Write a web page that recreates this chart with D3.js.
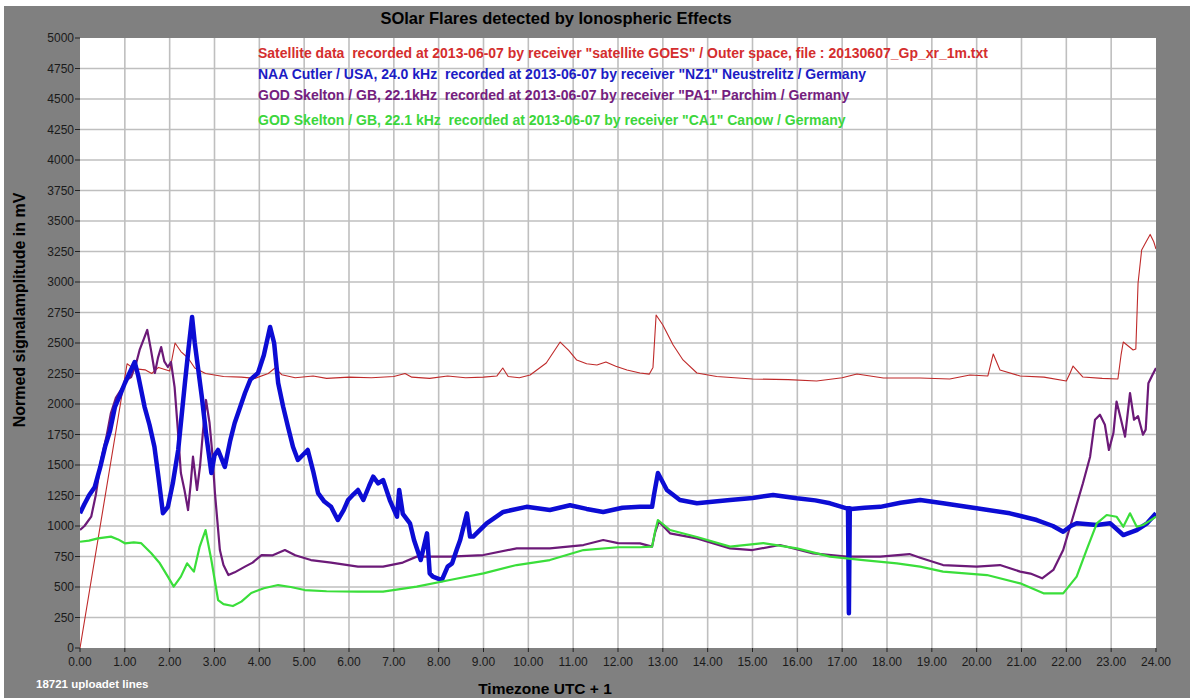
<!DOCTYPE html>
<html lang="en">
<head>
    <meta charset="UTF-8">
    <title>SOlar Flares detected by Ionospheric Effects</title>
    <script src="https://d3js.org/d3.v7.min.js"></script>
    <style>
        body { margin: 0; background: #ffffff; }
        svg { display: block; }
        .tick-label { font-family: "Liberation Sans Narrow", "Arial Narrow", "Liberation Sans", Arial, sans-serif; font-size: 12px; fill: #1a1a1a; }
    </style>
</head>
<body>
    <div id="chart"></div>
    <script>

// ---- data ----
var hourTicks = d3.range(0, 25);
var valueTicks = d3.range(0, 5001, 250);

var legendLabels = [
    'Satellite data  recorded at 2013-06-07 by receiver "satellite GOES" / Outer space, file : 20130607_Gp_xr_1m.txt',
    'NAA Cutler / USA, 24.0 kHz  recorded at 2013-06-07 by receiver "NZ1" Neustrelitz / Germany',
    'GOD Skelton / GB, 22.1kHz  recorded at 2013-06-07 by receiver "PA1" Parchim / Germany',
    'GOD Skelton / GB, 22.1 kHz  recorded at 2013-06-07 by receiver "CA1" Canow / Germany'
];

// satellite GOES
var goesT = [0, 1.05, 1.2, 1.45, 1.6, 1.75, 2.0, 2.12, 2.25, 2.41, 2.56, 2.8, 3.2, 3.6, 3.9, 4.2, 4.35, 4.5, 4.8, 5.2, 5.5, 6.0, 6.5, 7.0, 7.25, 7.4, 7.8, 8.2, 8.6, 9.0, 9.3, 9.43, 9.55, 9.8, 10.04, 10.4, 10.71, 10.9, 11.08, 11.3, 11.53, 11.73, 11.95, 12.2, 12.49, 12.7, 12.78, 12.85, 13.0, 13.23, 13.45, 13.76, 14.2, 15.0, 15.8, 16.43, 17.0, 17.33, 17.92, 18.74, 19.4, 19.85, 20.25, 20.37, 20.52, 20.97, 21.5, 22.0, 22.08, 22.15, 22.37, 22.8, 23.15, 23.22, 23.27, 23.49, 23.55, 23.6, 23.68, 23.78, 23.87, 23.95, 24.0];
var goesV = [0, 2330, 2290, 2280, 2250, 2300, 2270, 2500, 2430, 2377, 2295, 2250, 2225, 2220, 2210, 2250, 2295, 2240, 2215, 2230, 2210, 2220, 2215, 2225, 2250, 2220, 2210, 2230, 2215, 2220, 2230, 2295, 2225, 2215, 2238, 2336, 2508, 2440, 2360, 2330, 2320, 2344, 2310, 2279, 2254, 2245, 2300, 2730, 2648, 2484, 2361, 2254, 2225, 2205, 2200, 2189, 2215, 2246, 2213, 2213, 2205, 2238, 2230, 2410, 2279, 2230, 2220, 2189, 2250, 2311, 2221, 2210, 2205, 2400, 2508, 2443, 2450, 2992, 3262, 3330, 3390, 3330, 3270];

// NAA Cutler, NZ1
var naaT = [0, 0.1, 0.2, 0.33, 0.45, 0.56, 0.67, 0.78, 0.9, 1.0, 1.1, 1.22, 1.3, 1.44, 1.55, 1.66, 1.75, 1.85, 1.96, 2.07, 2.19, 2.34, 2.42, 2.5, 2.56, 2.63, 2.72, 2.81, 2.93, 3.0, 3.08, 3.23, 3.35, 3.45, 3.55, 3.68, 3.8, 3.97, 4.1, 4.24, 4.33, 4.42, 4.53, 4.64, 4.75, 4.86, 5.08, 5.2, 5.31, 5.45, 5.6, 5.75, 5.88, 5.98, 6.1, 6.2, 6.32, 6.45, 6.54, 6.65, 6.76, 6.91, 7.07, 7.12, 7.2, 7.36, 7.45, 7.6, 7.74, 7.8, 7.87, 8.07, 8.2, 8.3, 8.4, 8.48, 8.63, 8.7, 8.77, 9.07, 9.44, 9.96, 10.48, 10.93, 11.3, 11.67, 12.1, 12.49, 12.76, 12.8, 12.89, 13.09, 13.38, 13.76, 14.5, 15.0, 15.46, 15.99, 16.4, 16.73, 17.1, 17.13, 17.15, 17.17, 17.2, 17.5, 17.85, 18.3, 18.74, 19.25, 20.0, 20.74, 21.34, 21.7, 21.93, 22.1, 22.23, 22.68, 22.98, 23.27, 23.57, 23.8, 24.0];
var naaV = [1105, 1180, 1250, 1320, 1480, 1650, 1780, 1977, 2080, 2170, 2250, 2344, 2230, 1977, 1830, 1650, 1400, 1105, 1157, 1350, 1623, 2172, 2450, 2713, 2500, 2303, 2050, 1762, 1434, 1580, 1623, 1484, 1700, 1844, 1950, 2090, 2200, 2254, 2400, 2631, 2500, 2172, 1980, 1811, 1650, 1541, 1623, 1450, 1270, 1200, 1157, 1049, 1130, 1213, 1260, 1295, 1213, 1330, 1404, 1350, 1377, 1213, 1076, 1295, 1100, 1022, 885, 721, 940, 612, 585, 557, 667, 694, 803, 885, 1104, 913, 913, 1022, 1115, 1157, 1131, 1170, 1140, 1115, 1150, 1157, 1157, 1250, 1434, 1295, 1213, 1186, 1213, 1230, 1254, 1227, 1210, 1186, 1145, 1145, 285, 1145, 1140, 1150, 1157, 1190, 1213, 1186, 1145, 1104, 1049, 1000, 953, 1000, 1022, 1008, 1022, 926, 967, 1022, 1104];

// GOD Skelton, PA1
var pa1T = [0, 0.1, 0.25, 0.35, 0.47, 0.6, 0.69, 0.8, 0.91, 1.05, 1.14, 1.25, 1.33, 1.42, 1.5, 1.58, 1.67, 1.74, 1.81, 1.88, 1.96, 2.03, 2.11, 2.18, 2.25, 2.33, 2.41, 2.47, 2.52, 2.61, 2.68, 2.74, 2.81, 2.89, 2.95, 3.01, 3.12, 3.2, 3.31, 3.45, 3.68, 3.85, 4.05, 4.3, 4.57, 4.8, 5.15, 5.6, 6.2, 6.76, 7.2, 7.51, 8.25, 9.0, 9.74, 10.48, 11.23, 11.67, 12.0, 12.49, 12.76, 12.83, 12.91, 13.16, 13.76, 14.5, 15.0, 15.61, 16.35, 17.1, 17.85, 18.5, 18.74, 19.25, 20.0, 20.52, 20.97, 21.2, 21.46, 21.71, 21.93, 22.15, 22.37, 22.53, 22.64, 22.75, 22.86, 22.95, 23.05, 23.12, 23.22, 23.31, 23.42, 23.51, 23.6, 23.71, 23.77, 23.83, 23.92, 24.0];
var pa1V = [967, 1000, 1076, 1250, 1541, 1750, 1926, 2050, 2115, 2200, 2221, 2330, 2443, 2530, 2607, 2450, 2254, 2380, 2467, 2350, 2303, 2344, 2139, 1800, 1434, 1295, 1131, 1350, 1568, 1295, 1500, 1762, 2033, 1844, 1600, 1270, 803, 680, 598, 620, 667, 700, 762, 760, 803, 760, 721, 700, 667, 667, 700, 749, 749, 762, 817, 817, 844, 885, 860, 858, 831, 950, 1036, 940, 899, 817, 803, 844, 776, 749, 749, 770, 740, 680, 667, 680, 626, 610, 571, 640, 803, 1076, 1350, 1568, 1871, 1912, 1830, 1623, 1762, 2020, 1871, 1732, 2090, 1871, 1900, 1748, 1790, 2170, 2238, 2295];

// GOD Skelton, CA1
var ca1T = [0, 0.2, 0.4, 0.69, 0.85, 1.0, 1.2, 1.36, 1.59, 1.78, 1.96, 2.09, 2.25, 2.39, 2.54, 2.67, 2.8, 2.93, 3.08, 3.2, 3.41, 3.6, 3.82, 4.1, 4.42, 4.7, 5.01, 5.5, 6.2, 6.76, 7.51, 8.25, 9.0, 9.74, 10.48, 11.23, 12.0, 12.49, 12.76, 12.83, 12.89, 13.16, 13.76, 14.5, 15.24, 15.99, 16.73, 17.47, 18.22, 18.74, 19.25, 20.23, 20.97, 21.49, 21.93, 22.23, 22.45, 22.68, 22.9, 23.12, 23.27, 23.42, 23.57, 23.71, 23.85, 24.0];
var ca1V = [871, 880, 899, 913, 890, 858, 865, 860, 776, 694, 585, 503, 585, 694, 626, 831, 967, 721, 393, 360, 344, 380, 451, 490, 516, 500, 475, 465, 462, 462, 503, 557, 612, 680, 721, 803, 826, 826, 831, 960, 1049, 967, 910, 831, 860, 817, 749, 721, 694, 667, 626, 598, 530, 448, 448, 585, 803, 1022, 1090, 1076, 994, 1104, 994, 1008, 1040, 1076];

var series = [
    { t: goesT, v: goesV, line: '#bf2a2a', text: '#d42e2e', width: 1.1 },
    { t: naaT, v: naaV, line: '#0c0cd4', text: '#1c1cc4', width: 4.5 },
    { t: pa1T, v: pa1V, line: '#6c1a78', text: '#74207e', width: 2.2 },
    { t: ca1T, v: ca1V, line: '#3ade3a', text: '#3cd63c', width: 2.2 }
];

// ---- layout ----
var W = 1190, H = 698;
var plot = { left: 80, right: 1156, top: 38, bottom: 648 };

var x = d3.scaleLinear().domain([0, 24]).range([plot.left, plot.right]);
var y = d3.scaleLinear().domain([0, 5000]).range([plot.bottom, plot.top]);

var svg = d3.select('#chart').append('svg')
    .attr('width', W)
    .attr('height', H);

// grey window background with a thin white edge top/left
svg.append('rect').attr('x', 0).attr('y', 0).attr('width', W).attr('height', H).attr('fill', '#ffffff');
svg.append('rect').attr('x', 4).attr('y', 6).attr('width', W - 4).attr('height', H - 6).attr('fill', '#808080');

svg.append('rect')
    .attr('x', plot.left).attr('y', plot.top)
    .attr('width', plot.right - plot.left)
    .attr('height', plot.bottom - plot.top)
    .attr('fill', '#ffffff');

// grid
svg.append('g').selectAll('line.vgrid')
    .data(hourTicks.slice(1, -1))
    .enter().append('line')
    .attr('x1', function(d) { return x(d); })
    .attr('x2', function(d) { return x(d); })
    .attr('y1', plot.top).attr('y2', plot.bottom)
    .attr('stroke', '#bfbfbf').attr('stroke-width', 1.6);

svg.append('g').selectAll('line.hgrid')
    .data(valueTicks.slice(1, -1))
    .enter().append('line')
    .attr('y1', function(d) { return y(d); })
    .attr('y2', function(d) { return y(d); })
    .attr('x1', plot.left).attr('x2', plot.right)
    .attr('stroke', '#bfbfbf').attr('stroke-width', 1.6);

// y axis ticks + labels
var yAxis = svg.append('g');
yAxis.selectAll('line')
    .data(valueTicks)
    .enter().append('line')
    .attr('x1', plot.left - 5).attr('x2', plot.left)
    .attr('y1', function(d) { return y(d); })
    .attr('y2', function(d) { return y(d); })
    .attr('stroke', '#222').attr('stroke-width', 1);
yAxis.selectAll('text')
    .data(valueTicks)
    .enter().append('text')
    .attr('class', 'tick-label')
    .attr('x', plot.left - 6)
    .attr('y', function(d) { return y(d) + 4; })
    .attr('text-anchor', 'end')
    .text(function(d) { return d; });

// x axis ticks + labels
var xAxis = svg.append('g');
xAxis.selectAll('line')
    .data(hourTicks)
    .enter().append('line')
    .attr('x1', function(d) { return x(d); })
    .attr('x2', function(d) { return x(d); })
    .attr('y1', plot.bottom).attr('y2', plot.bottom + 4)
    .attr('stroke', '#222').attr('stroke-width', 1);
xAxis.selectAll('text')
    .data(hourTicks)
    .enter().append('text')
    .attr('class', 'tick-label')
    .attr('x', function(d) { return x(d); })
    .attr('y', plot.bottom + 18)
    .attr('text-anchor', 'middle')
    .text(function(d) { return d3.format('.2f')(d); });

// lines
svg.append('clipPath').attr('id', 'plotClip').append('rect')
    .attr('x', plot.left).attr('y', plot.top)
    .attr('width', plot.right - plot.left)
    .attr('height', plot.bottom - plot.top);

var line = d3.line()
    .x(function(d) { return x(d[0]); })
    .y(function(d) { return y(d[1]); });

var lines = svg.append('g').attr('clip-path', 'url(#plotClip)');
// red underneath, green on top
[0, 2, 1, 3].forEach(function(i) {
    var s = series[i];
    var pts = s.t.map(function(t, k) { return [t, s.v[k]]; });
    lines.append('path')
        .attr('d', line(pts))
        .attr('fill', 'none')
        .attr('stroke', s.line)
        .attr('stroke-width', s.width)
        .attr('stroke-linejoin', 'round');
});

// legend texts
svg.append('g').selectAll('text')
    .data(legendLabels)
    .enter().append('text')
    .attr('x', 258)
    .attr('y', function(d, i) { return [58, 79, 100, 125][i]; })
    .attr('font-family', 'Liberation Sans, Arial, sans-serif')
    .attr('font-size', 14)
    .attr('font-weight', 'bold')
    .attr('fill', function(d, i) { return series[i].text; })
    .style('white-space', 'pre')
    .text(function(d) { return d; });

// titles
svg.append('text')
    .attr('x', 556).attr('y', 24)
    .attr('text-anchor', 'middle')
    .attr('font-family', 'Liberation Sans, Arial, sans-serif')
    .attr('font-size', 16.5).attr('font-weight', 'bold')
    .attr('fill', '#000')
    .text('SOlar Flares detected by Ionospheric Effects');

svg.append('text')
    .attr('transform', 'translate(25,310) rotate(-90)')
    .attr('text-anchor', 'middle')
    .attr('font-family', 'Liberation Sans, Arial, sans-serif')
    .attr('font-size', 16).attr('font-weight', 'bold')
    .attr('fill', '#000')
    .text('Normed signalamplitude in mV');

svg.append('text')
    .attr('x', 545).attr('y', 694)
    .attr('text-anchor', 'middle')
    .attr('font-family', 'Liberation Sans, Arial, sans-serif')
    .attr('font-size', 15.5).attr('font-weight', 'bold')
    .attr('fill', '#000')
    .text('Timezone UTC + 1');

svg.append('text')
    .attr('x', 36).attr('y', 688)
    .attr('font-family', 'Liberation Sans, Arial, sans-serif')
    .attr('font-size', 11.5).attr('font-weight', 'bold')
    .attr('fill', '#ffffff')
    .text('18721 uploadet lines');

    </script>
</body>
</html>
